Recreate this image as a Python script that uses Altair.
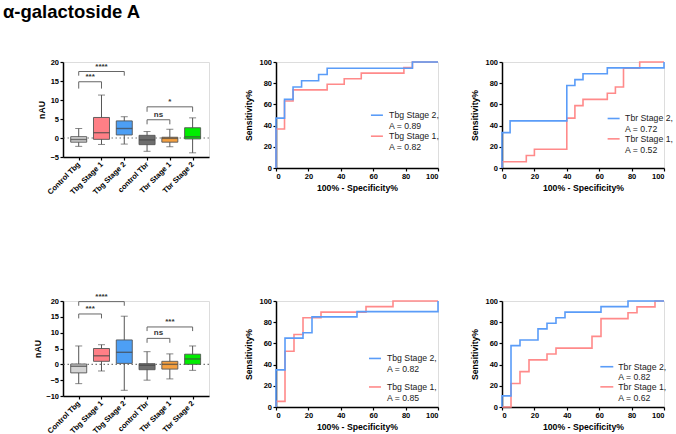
import altair as alt
import pandas as pd

# ---------------- data ----------------
TITLE = "α-galactoside A"
CATS = ["Control Tbg", "Tbg Stage 1", "Tbg Stage 2", "control Tbr", "Tbr Stage 1", "Tbr Stage 2"]
BOX_COLORS = ["#d4d4d4", "#ff7f86", "#4d9ff5", "#6e6e6e", "#f5a040", "#00ee00"]

# Row 1 box plot (min, Q1, median, Q3, max)
B1_MIN = [-2.2, -1.7, -1.6, -3.5, -2.3, -3.9]
B1_Q1 = [-1.1, -0.35, 0.8, -1.75, -1.1, -0.25]
B1_MED = [-0.4, 1.4, 2.5, -0.5, -0.1, 0.3]
B1_Q3 = [0.35, 5.4, 4.5, 0.7, 0.2, 2.7]
B1_MAX = [2.5, 11.3, 5.6, 1.7, 2.3, 5.3]
B1_BR_X0 = [0, 0, 3, 3]
B1_BR_X1 = [1, 2, 4, 5]
B1_BR_Y = [14.8, 17.5, 4.8, 8.2]
B1_BR_END = [13.0, 16.4, 3.6, 6.9]
B1_BR_LAB = ["***", "****", "ns", "*"]

# Row 2 box plot
B2_MIN = [-6.1, -2.1, -8.2, -5.0, -4.6, -1.9]
B2_Q1 = [-2.7, 0.95, 0.3, -1.7, -1.5, 0.0]
B2_MED = [-0.6, 2.7, 3.8, -0.3, 0.0, 1.7]
B2_Q3 = [0.1, 5.0, 7.7, 0.2, 0.95, 3.2]
B2_MAX = [5.8, 6.2, 15.2, 4.0, 3.3, 5.8]
B2_BR_X0 = [0, 0, 3, 3]
B2_BR_X1 = [1, 2, 4, 5]
B2_BR_Y = [15.9, 19.8, 8.2, 11.8]
B2_BR_END = [14.5, 18.5, 6.8, 10.5]
B2_BR_LAB = ["***", "****", "ns", "***"]

# ROC curves (FPR = 100% - specificity, TPR = sensitivity)
R1A_S2_FPR = [0, 0, 5.26, 10.53, 15.79, 26.32, 31.58, 84.21, 100]
R1A_S2_TPR = [0, 47.06, 64.71, 76.47, 82.35, 88.24, 94.12, 100, 100]
R1A_S1_FPR = [0, 0, 5.26, 10.53, 31.58, 42.11, 52.63, 78.95, 84.21, 100]
R1A_S1_TPR = [0, 36.84, 63.16, 73.68, 78.95, 84.21, 89.47, 94.74, 100, 100]

R1B_S2_FPR = [0, 0, 5, 40, 45, 50, 65, 100]
R1B_S2_TPR = [0, 33.33, 44.44, 77.78, 83.33, 88.89, 94.44, 100]
R1B_S1_FPR = [0, 0, 15, 20, 40, 45, 50, 65, 70, 75, 85, 100]
R1B_S1_TPR = [0, 5.88, 11.76, 17.65, 47.06, 58.82, 64.71, 70.59, 76.47, 94.12, 100, 100]

R2A_S2_FPR = [0, 0, 5.56, 16.67, 22.22, 50, 100]
R2A_S2_TPR = [0, 35, 65, 70, 85, 90, 100]
R2A_S1_FPR = [0, 0, 5.56, 11.11, 16.67, 27.78, 55.56, 72.22, 100]
R2A_S1_TPR = [0, 5.26, 52.63, 68.42, 84.21, 89.47, 94.74, 100, 100]

R2B_S2_FPR = [0, 0, 5.56, 11.11, 22.22, 27.78, 33.33, 38.89, 61.11, 77.78, 100]
R2B_S2_TPR = [0, 10.53, 57.89, 63.16, 73.68, 78.95, 84.21, 89.47, 94.74, 100, 100]
R2B_S1_FPR = [0, 5.56, 11.11, 16.67, 27.78, 33.33, 55.56, 61.11, 77.78, 83.33, 94.44, 100]
R2B_S1_TPR = [0, 22.22, 33.33, 44.44, 50, 55.56, 66.67, 83.33, 88.89, 94.44, 100, 100]

LEG_R1A = ["Tbg Stage 2,\n A = 0.89", "Tbg Stage 1,\n A = 0.82"]
LEG_R1B = ["Tbr Stage 2,\nA = 0.72", "Tbr Stage 1,\nA = 0.52"]
LEG_R2A = ["Tbg Stage 2,\nA = 0.82", "Tbg Stage 1,\nA = 0.85"]
LEG_R2B = ["Tbr Stage 2,\nA = 0.82", "Tbr Stage 1,\nA = 0.62"]

# ---------------- style ----------------
FONT = "Liberation Sans"
BLUE = "#5a9cf8"
RED = "#ff8a8a"
BOX_W, BOX_H1, BOX_H2 = 146, 95, 95
ROC_W, ROC_H = 162, 106


def axis_common(**kw):
    base = dict(domainColor="black", domainWidth=1.5, tickColor="black", tickWidth=1.2,
                tickSize=3, labelFont=FONT, labelFontWeight="bold", labelFontSize=7.5,
                labelColor="black", labelPadding=1.5, titleFont=FONT, titleFontWeight="bold",
                titleFontSize=8.7, titleColor="black", grid=False, labelOverlap=False)
    base.update(kw)
    return alt.Axis(**base)


def box_panel(mins, q1, med, q3, maxs, bx0, bx1, by, bend, blab, ymin, height, title=None):
    df = pd.DataFrame({"idx": list(range(len(CATS))), "cat": CATS, "lo": mins,
                       "q1": q1, "med": med, "q3": q3, "hi": maxs})
    br = pd.DataFrame({"x0": bx0, "x1": bx1, "y": by, "end": bend, "lab": blab})
    br["mid"] = (br["x0"] + br["x1"]) / 2

    arr = "[" + ",".join("'%s'" % c for c in CATS) + "]"
    xax = axis_common(values=list(range(len(CATS))), labelExpr=arr + "[datum.value]",
                      labelAngle=-45, labelAlign="right", labelBaseline="middle",
                      labelPadding=3, title=None)
    yax = axis_common(values=list(range(ymin, 21, 5)), title="nAU", titlePadding=3)
    xs = alt.Scale(domain=[-0.47, 5.5], nice=False, zero=False)
    ys = alt.Scale(domain=[ymin, 20], nice=False, zero=False)

    def X(f):
        return alt.X(f, type="quantitative", scale=xs, axis=xax)

    def Y(f):
        return alt.Y(f, type="quantitative", scale=ys, axis=yax)

    base = alt.Chart(df)
    zero = alt.Chart(pd.DataFrame({"z": [0]})).mark_rule(
        color="#777777", strokeDash=[1.5, 2.5], strokeWidth=1.2).encode(y=Y("z"))
    whisk = base.mark_rule(color="#555555", strokeWidth=1).encode(x=X("idx"), y=Y("lo"), y2="hi")
    cap_lo = base.mark_tick(orient="horizontal", size=7, thickness=1, color="#555555").encode(
        x=X("idx"), y=Y("lo"))
    cap_hi = base.mark_tick(orient="horizontal", size=7, thickness=1, color="#555555").encode(
        x=X("idx"), y=Y("hi"))
    box = base.mark_bar(size=16, stroke="#555555", strokeWidth=0.9).encode(
        x=X("idx"), y=Y("q1"), y2="q3",
        color=alt.Color("cat:N", scale=alt.Scale(domain=CATS, range=BOX_COLORS), legend=None))
    medl = base.mark_tick(orient="horizontal", size=16, thickness=1.4, color="#444444").encode(
        x=X("idx"), y=Y("med"))
    bc = alt.Chart(br)
    h = bc.mark_rule(color="#666666", strokeWidth=1).encode(x=X("x0"), x2="x1", y=Y("y"))
    vl = bc.mark_rule(color="#666666", strokeWidth=1).encode(x=X("x0"), y=Y("y"), y2="end")
    vr = bc.mark_rule(color="#666666", strokeWidth=1).encode(x=X("x1"), y=Y("y"), y2="end")
    txt = bc.mark_text(font=FONT, fontWeight="bold", fontSize=8, baseline="bottom", dy=-1,
                       color="#333333").encode(x=X("mid"), y=Y("y"), text="lab:N")
    layers = [zero, whisk, cap_lo, cap_hi, box, medl, h, vl, vr, txt]
    if title is not None:
        layers.append(alt.Chart(pd.DataFrame({"t": [title]})).mark_text(
            font=FONT, fontWeight="bold", fontSize=18.5, align="left",
            baseline="alphabetic", color="black").encode(
            text="t:N", x=alt.value(-60), y=alt.value(-44)))
    return alt.layer(*layers).properties(width=BOX_W, height=height)


def roc_panel(s2f, s2t, s1f, s1t, labels, leg):
    xs = alt.Scale(domain=[0, 100], nice=False)
    ys = alt.Scale(domain=[0, 100], nice=False)
    xax = axis_common(values=[0, 20, 40, 60, 80, 100], title="100% - Specificity%", titlePadding=3)
    yax = axis_common(values=[0, 20, 40, 60, 80, 100], title="Sensitivity%", titlePadding=5)
    x0, x1, xt, yb, yr = leg
    layers = []
    for f, t, colr, lab, ly in ((s1f, s1t, RED, labels[1], yr), (s2f, s2t, BLUE, labels[0], yb)):
        df = pd.DataFrame({"i": list(range(len(f))), "fpr": f, "tpr": t})
        layers.append(alt.Chart(df).mark_line(interpolate="step-after", strokeWidth=1.6,
                                              color=colr).encode(
            x=alt.X("fpr:Q", scale=xs, axis=xax), y=alt.Y("tpr:Q", scale=ys, axis=yax),
            order="i:Q"))
        ld = pd.DataFrame({"x0": [x0], "x1": [x1], "xt": [xt], "y": [ly], "label": [lab]})
        layers.append(alt.Chart(ld).mark_rule(strokeWidth=1.6, color=colr).encode(
            x=alt.X("x0:Q", scale=xs, axis=xax), x2="x1", y=alt.Y("y:Q", scale=ys, axis=yax)))
        layers.append(alt.Chart(ld).mark_text(font=FONT, fontSize=8.7, align="left",
                                              baseline="middle", lineBreak="\n",
                                              color="#222222").encode(
            x=alt.X("xt:Q", scale=xs, axis=xax), y=alt.Y("y:Q", scale=ys, axis=yax),
            text="label:N"))
    return alt.layer(*layers).properties(width=ROC_W, height=ROC_H)


row1 = alt.hconcat(
    box_panel(B1_MIN, B1_Q1, B1_MED, B1_Q3, B1_MAX, B1_BR_X0, B1_BR_X1, B1_BR_Y, B1_BR_END,
              B1_BR_LAB, -5, BOX_H1, title=TITLE),
    alt.hconcat(
        roc_panel(R1A_S2_FPR, R1A_S2_TPR, R1A_S1_FPR, R1A_S1_TPR, LEG_R1A, (58.6, 66, 69.8, 49.8, 30)),
        roc_panel(R1B_S2_FPR, R1B_S2_TPR, R1B_S1_FPR, R1B_S1_TPR, LEG_R1B, (65.2, 72.6, 76, 46.7, 27.5)),
        spacing=64, bounds="flush"),
    spacing=67, bounds="flush")

row2 = alt.hconcat(
    box_panel(B2_MIN, B2_Q1, B2_MED, B2_Q3, B2_MAX, B2_BR_X0, B2_BR_X1, B2_BR_Y, B2_BR_END,
              B2_BR_LAB, -10, BOX_H2),
    alt.hconcat(
        roc_panel(R2A_S2_FPR, R2A_S2_TPR, R2A_S1_FPR, R2A_S1_TPR, LEG_R2A, (57.4, 64.8, 68.5, 45.8, 18.9)),
        roc_panel(R2B_S2_FPR, R2B_S2_TPR, R2B_S1_FPR, R2B_S1_TPR, LEG_R2B, (60.7, 68.7, 71.8, 38, 19)),
        spacing=64, bounds="flush"),
    spacing=67, bounds="flush")

chart = alt.vconcat(row1, row2, spacing=239, bounds="flush").properties(
    padding={"left": 2, "top": 2, "right": 2, "bottom": 1},
).configure_view(stroke=None).configure(background="white").resolve_scale(color="independent")

chart.save("out.html", embed_options={"renderer": "svg", "actions": False})
